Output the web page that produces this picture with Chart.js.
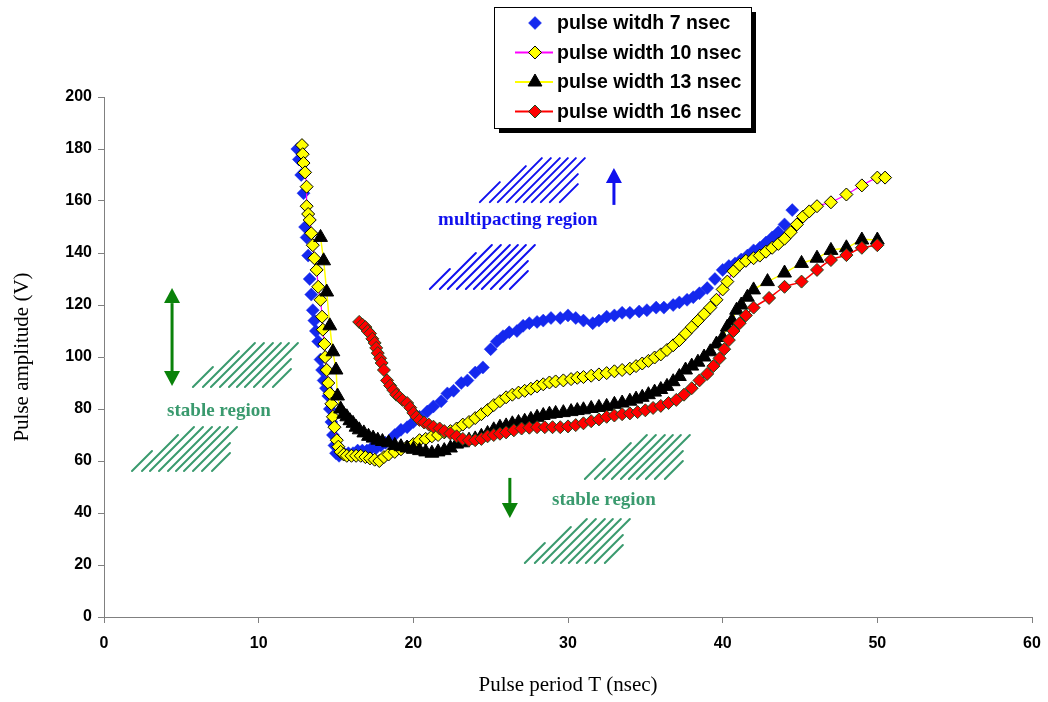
<!DOCTYPE html>
<html>
<head>
<meta charset="utf-8">
<script src="https://cdn.jsdelivr.net/npm/chart.js@4.4.0/dist/chart.umd.min.js"></script>
<style>
  html, body { margin: 0; padding: 0; background: #fff; }
  #wrap { width: 1048px; height: 702px; position: relative; }
</style>
</head>
<body>
<div id="wrap"><canvas id="pulseChart"></canvas></div>
<script>
// tick labels
const xTicks = [0, 10, 20, 30, 40, 50, 60];
const yTicks = [0, 20, 40, 60, 80, 100, 120, 140, 160, 180, 200];

const seriesLabels = ['pulse witdh 7 nsec', 'pulse width 10 nsec', 'pulse width 13 nsec', 'pulse width 16 nsec'];

// [period T (nsec), amplitude (V)]
const pw7 = [[12.5,180],[12.6,176],[12.75,170],[12.9,163],[13.0,150],[13.1,146],[13.2,139],[13.3,130],[13.4,124],[13.5,118],
  [13.6,114],[13.7,110],[13.85,106],[14.0,99],[14.1,95],[14.2,91],[14.35,88],[14.5,85],[14.6,80],[14.7,75],[14.8,70],[14.9,66],
  [15.0,63],[15.2,62],[15.5,63],[15.8,63],[16.1,63],[16.4,64],[16.7,64],[17.0,64],[17.3,65],[17.6,65],[17.9,66],[18.2,67],
  [18.5,68],[18.8,70],[19.2,72],[19.6,73],[20.0,75],[20.4,77],[20.9,79],[21.3,81],[21.8,83],[22.2,86],[22.6,87],[23.1,90],
  [23.5,91],[24.0,94],[24.5,96],[25.0,103],[25.4,106],[25.8,108],[26.2,109.5],[26.7,110],[27.1,112],[27.5,113],[28.0,113.5],
  [28.4,114],[28.9,115],[29.5,115],[30.0,116],[30.5,115],[31.0,114],[31.6,113],[32.0,114],[32.5,115.5],[33.0,116],[33.5,117],
  [34.0,117],[34.6,117.5],[35.1,118],[35.7,119],[36.2,119],[36.8,120],[37.2,121],[37.7,122],[38.1,123],[38.5,124.5],[39.0,126.5],
  [39.5,130],[40.0,133.5],[40.4,135],[40.8,136],[41.2,137.5],[41.6,139],[42.0,141],[42.4,142],[42.8,144],[43.2,146],[43.6,148],
  [44.0,151],[44.5,156.5]];

const pw10 = [[12.8,181.5],[12.85,178],[12.9,174.6],[13.0,171],[13.1,165.5],[13.1,158],[13.2,155],[13.3,152.7],[13.4,147.6],
  [13.5,143],[13.6,138],[13.75,133.5],[13.85,127],[14.0,122],[14.1,115.5],[14.15,110.5],[14.25,105],[14.3,100],[14.4,95],
  [14.5,90],[14.6,86],[14.7,82],[14.8,77],[14.9,73],[15.05,68],[15.15,65.5],[15.3,63.5],[15.5,62.5],[15.7,62],[16.0,62],
  [16.3,62],[16.6,62],[16.9,61.5],[17.2,61],[17.5,60.5],[17.8,60],[18.1,61.5],[18.4,62.5],[18.8,63.5],[19.2,64.5],[19.6,65.5],
  [20.0,66.5],[20.4,68],[20.8,68.5],[21.2,69.5],[21.6,70],[22.0,71],[22.4,71.5],[22.8,72.5],[23.2,74],[23.6,75],[24.0,76.5],
  [24.4,78],[24.8,79.6],[25.2,81.5],[25.6,83],[26.0,84.5],[26.4,85.5],[26.8,86.3],[27.2,87],[27.6,87.8],[28.0,88.7],[28.4,89.5],
  [28.8,90.2],[29.2,90.6],[29.7,91],[30.2,91.5],[30.6,92],[31.0,92.3],[31.5,92.8],[32.0,93.3],[32.5,93.8],[33.0,94.5],[33.5,95],
  [34.0,95.5],[34.4,96.5],[34.8,97.5],[35.2,98.5],[35.6,99.8],[36.0,101],[36.4,102.7],[36.8,104.5],[37.2,106.5],[37.6,109],
  [38.0,111.5],[38.4,114],[38.8,116.5],[39.2,119],[39.6,122],[40.0,126],[40.3,129],[40.7,133],[41.1,135.5],[41.5,137],[42.0,138],
  [42.4,139],[42.8,140.5],[43.2,142],[43.6,143.5],[44.0,145.5],[44.4,148],[44.8,151],[45.2,154],[45.6,156],[46.1,158],[47.0,159.5],
  [48.0,162.5],[49.0,166],[50.0,169],[50.5,169]];

const pw13 = [[14.0,146],[14.2,137],[14.4,125],[14.6,112],[14.8,102],[15.0,95],[15.1,85],[15.3,80],[15.5,78],[15.7,77],[15.9,75.5],
  [16.1,74.5],[16.3,73],[16.5,72],[16.8,70.8],[17.1,69.5],[17.4,68.8],[17.7,68],[18.0,67.5],[18.4,67],[18.8,66],[19.2,65.5],
  [19.6,65],[20.0,64.5],[20.4,64],[20.8,63.5],[21.2,63],[21.6,63.5],[22.0,64],[22.4,65],[22.8,66.5],[23.2,67],[23.6,68],[24.0,68.5],
  [24.4,69.5],[24.8,70.6],[25.2,72],[25.6,73],[26.0,73.5],[26.4,74.3],[26.8,74.8],[27.2,75.3],[27.6,76],[28.0,76.8],[28.4,77.5],
  [28.8,78],[29.2,78.3],[29.7,78.6],[30.2,79],[30.6,79.4],[31.0,79.7],[31.5,80.2],[32.0,80.6],[32.5,81],[33.0,81.8],[33.5,82.3],
  [34.0,83],[34.4,83.8],[34.8,84.5],[35.2,85.5],[35.6,86.5],[36.0,87.5],[36.4,88.7],[36.8,90.5],[37.2,92.5],[37.6,95],[38.0,96.5],
  [38.4,98],[38.8,100],[39.2,102],[39.6,105],[40.0,107.5],[40.3,111.5],[40.6,114],[40.9,118],[41.2,120],[41.6,123],[42.0,125.8],
  [42.9,129],[44.0,132.3],[45.1,136],[46.1,138],[47.0,141],[48.0,142],[49.0,145],[50.0,145]];

const pw16 = [[16.5,113.5],[16.7,112.5],[16.9,111.5],[17.05,110],[17.2,109],[17.35,107],[17.5,105.4],[17.6,103.5],[17.7,101.5],
  [17.85,99.5],[17.95,97.7],[18.1,95],[18.3,91],[18.5,89],[18.7,87.3],[18.9,85.5],[19.1,84.6],[19.3,83.5],[19.6,82.3],[19.8,80.5],
  [20.0,78.5],[20.2,77],[20.4,75.8],[20.7,74.8],[21.0,74],[21.3,73.2],[21.7,72.5],[22.0,71.5],[22.4,70.6],[22.8,69.5],[23.2,68.5],
  [23.6,68],[24.0,68],[24.4,68.5],[24.8,69.5],[25.2,70],[25.6,70.5],[26.0,71],[26.5,71.8],[27.0,72.5],[27.5,72.8],[28.0,73],
  [28.5,73],[29.0,73],[29.5,73],[30.0,73.3],[30.5,73.8],[31.0,74.5],[31.5,75.3],[32.0,76],[32.5,77],[33.0,77.5],[33.5,78],
  [34.0,78.3],[34.5,78.8],[35.0,79.5],[35.5,80.4],[36.0,81.2],[36.5,82.3],[37.0,83.5],[37.5,85.5],[38.0,88],[38.5,91],[39.0,93.5],
  [39.4,96.5],[39.8,99.5],[40.1,103],[40.4,106.5],[40.7,110],[41.1,113],[41.5,116],[42.0,119],[43.0,122.7],[44.0,127],[45.1,129],
  [46.1,133.5],[47.0,137.3],[48.0,139.2],[49.0,142],[50.0,143]];

// region notes: [x, y] in data units
const hatchBlue = [[24.3, 176.5], [21.07, 143.1]];
const hatchGreen = [[5.75, 105.4], [1.81, 73.1], [31.09, 70], [27.21, 37.7]];
const notes = [
  { text: 'multipacting region', x: 26.76, y: 152.7, color: '#1010ee' },
  { text: 'stable region', x: 7.43, y: 79.2, color: '#3a9a6e' },
  { text: 'stable region', x: 32.32, y: 45, color: '#3a9a6e' }
];

// hatch line pattern: [dx, dy, length] in px from group top-left
const hatchSegs = [[0,44,20],[10,44,36],[18,44,44],[27,44,44],[36,44,44],[44,44,44],[52,44,44],[61,44,44],[70,44,28],[80,44,18]];

function drawArrow(ctx, x, y1, y2, color, both) {
  // y1 tail, y2 head (pixels)
  const dir = y2 < y1 ? -1 : 1;
  const hl = 15, hw = 8;
  ctx.save();
  ctx.strokeStyle = color; ctx.fillStyle = color; ctx.lineWidth = 3;
  ctx.beginPath();
  ctx.moveTo(x, both ? y1 + dir * hl : y1);
  ctx.lineTo(x, y2 - dir * hl);
  ctx.stroke();
  const head = (yy, d) => {
    ctx.beginPath();
    ctx.moveTo(x, yy);
    ctx.lineTo(x - hw, yy - d * hl);
    ctx.lineTo(x + hw, yy - d * hl);
    ctx.closePath();
    ctx.fill();
  };
  head(y2, dir);
  if (both) head(y1, -dir);
  ctx.restore();
}

const regionNotes = {
  id: 'regionNotes',
  beforeDatasetsDraw(chart) {
    const ctx = chart.ctx, xs = chart.scales.x, ys = chart.scales.y;
    ctx.save();
    ctx.lineWidth = 2; ctx.lineCap = 'round';
    const hatch = (pos, color) => {
      const x0 = xs.getPixelForValue(pos[0]), y0 = ys.getPixelForValue(pos[1]);
      ctx.strokeStyle = color;
      hatchSegs.forEach(([dx, dy, len]) => {
        ctx.beginPath();
        ctx.moveTo(x0 + dx, y0 + dy);
        ctx.lineTo(x0 + dx + len, y0 + dy - len);
        ctx.stroke();
      });
    };
    hatchBlue.forEach(p => hatch(p, '#1010ee'));
    hatchGreen.forEach(p => hatch(p, '#3a9a6e'));

    ctx.font = 'bold 19px "Liberation Serif", "Times New Roman", serif';
    ctx.textAlign = 'center'; ctx.textBaseline = 'middle';
    notes.forEach(n => {
      ctx.fillStyle = n.color;
      ctx.fillText(n.text, xs.getPixelForValue(n.x), ys.getPixelForValue(n.y));
    });
    ctx.restore();

    drawArrow(ctx, xs.getPixelForValue(32.97), ys.getPixelForValue(158.5), ys.getPixelForValue(172.7), '#1010ee', false);
    drawArrow(ctx, xs.getPixelForValue(4.4), ys.getPixelForValue(126.5), ys.getPixelForValue(88.8), '#0a820a', true);
    drawArrow(ctx, xs.getPixelForValue(26.24), ys.getPixelForValue(53.5), ys.getPixelForValue(38.1), '#0a820a', false);
  }
};

const boxLegend = {
  id: 'boxLegend',
  afterDraw(chart) {
    const ctx = chart.ctx;
    const lx = 494, ly = 7, lw = 257, lh = 121;
    ctx.save();
    ctx.fillStyle = '#000';
    ctx.fillRect(lx + 5, ly + 5, lw, lh);
    ctx.fillStyle = '#fff';
    ctx.fillRect(lx, ly, lw, lh);
    ctx.strokeStyle = '#000'; ctx.lineWidth = 1;
    ctx.strokeRect(lx + 0.5, ly + 0.5, lw, lh);
    ctx.font = 'bold 19.5px "Liberation Sans", Arial, sans-serif';
    ctx.textBaseline = 'middle'; ctx.textAlign = 'left';
    chart.data.datasets.forEach((ds, i) => {
      const y = ly + 16 + i * 29.5;
      if (ds.showLine) {
        ctx.strokeStyle = ds.borderColor; ctx.lineWidth = 2;
        ctx.beginPath(); ctx.moveTo(515, y); ctx.lineTo(553, y); ctx.stroke();
      }
      ctx.fillStyle = ds.pointBackgroundColor;
      ctx.strokeStyle = ds.pointBorderColor;
      ctx.lineWidth = ds.pointBorderWidth;
      Chart.helpers.drawPoint(ctx, { pointStyle: ds.pointStyle, radius: ds.pointRadius, rotation: 0, borderWidth: ds.pointBorderWidth }, 535, y);
      ctx.fillStyle = '#000';
      ctx.fillText(seriesLabels[i], 557, y + 1);
    });
    ctx.restore();
  }
};

const tickFont = { family: '"Liberation Sans", Arial, sans-serif', size: 16, weight: 'bold' };
const titleFont = { family: '"Liberation Serif", "Times New Roman", serif', size: 21 };

new Chart(document.getElementById('pulseChart'), {
  type: 'scatter',
  data: {
    datasets: [
      { label: seriesLabels[0], data: pw7, showLine: false, order: 4,
        pointStyle: 'rectRot', pointRadius: 6.5, pointBackgroundColor: '#1428ee', pointBorderColor: '#1428ee', pointBorderWidth: 0.5,
        borderColor: '#1428ee' },
      { label: seriesLabels[1], data: pw10, showLine: true, order: 3, tension: 0.3,
        borderColor: '#ff00ff', borderWidth: 1.2,
        pointStyle: 'rectRot', pointRadius: 6.5, pointBackgroundColor: '#ffff00', pointBorderColor: '#000', pointBorderWidth: 1 },
      { label: seriesLabels[2], data: pw13, showLine: true, order: 2, tension: 0.3,
        borderColor: '#ffff00', borderWidth: 1.5,
        pointStyle: 'triangle', pointRadius: 8, pointBackgroundColor: '#000', pointBorderColor: '#000', pointBorderWidth: 1 },
      { label: seriesLabels[3], data: pw16, showLine: true, order: 1, tension: 0.3,
        borderColor: '#ff0000', borderWidth: 1.5,
        pointStyle: 'rectRot', pointRadius: 6.5, pointBackgroundColor: '#ff0000', pointBorderColor: '#1e4a1e', pointBorderWidth: 1 }
    ]
  },
  options: {
    responsive: true,
    maintainAspectRatio: false,
    animation: false,
    events: [],
    layout: { padding: { top: 97, right: 16, left: 0, bottom: 0 } },
    plugins: { legend: { display: false }, tooltip: { enabled: false } },
    scales: {
      x: {
        type: 'linear', min: 0, max: 60,
        afterBuildTicks: s => { s.ticks = xTicks.map(v => ({ value: v })); },
        afterFit: s => { s.height = 85; s.paddingLeft = 0; s.paddingRight = 0; },
        grid: { drawOnChartArea: false, drawTicks: true, tickLength: 6, color: '#808080' },
        border: { display: true, color: '#808080' },
        ticks: { color: '#000', font: tickFont, padding: 11, maxRotation: 0 },
        title: { display: true, text: 'Pulse period T (nsec)', color: '#000', font: titleFont, padding: { top: 0, bottom: 4 } }
      },
      y: {
        type: 'linear', min: 0, max: 200,
        afterBuildTicks: s => { s.ticks = yTicks.map(v => ({ value: v })); },
        afterFit: s => { s.width = 104; s.paddingTop = 0; s.paddingBottom = 0; },
        grid: { drawOnChartArea: false, drawTicks: true, tickLength: 6, color: '#808080' },
        border: { display: true, color: '#808080' },
        ticks: { color: '#000', font: tickFont, padding: 6 },
        title: { display: true, text: 'Pulse amplitude (V)', color: '#000', font: titleFont, padding: { top: 10, bottom: 0 } }
      }
    }
  },
  plugins: [regionNotes, boxLegend]
});
</script>
</body>
</html>
